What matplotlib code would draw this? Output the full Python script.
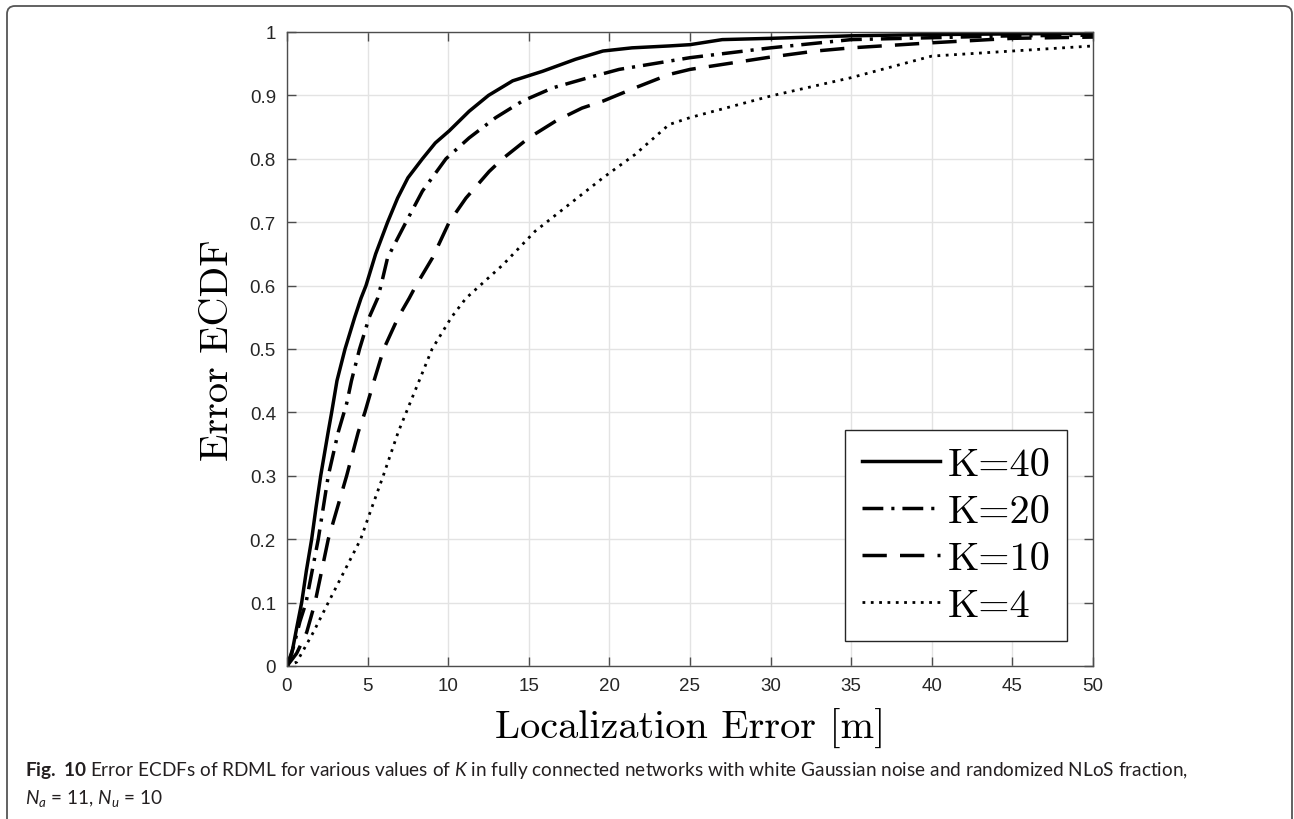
import matplotlib
matplotlib.use("Agg")
import matplotlib.pyplot as plt
from matplotlib.patches import FancyBboxPatch

# data (ECDF of localization error)
x_k40 = [0, 0.3, 0.6, 0.91, 1.2, 1.53, 1.8, 2.09, 2.56, 2.77, 3.1, 3.6, 4.2, 4.59, 4.9, 5.5, 6.24, 6.86,
         7.5, 8.4, 9.2, 10.06, 11.3, 12.5, 14.0, 15.85, 17.9, 19.6, 21.4, 23.7, 25, 27, 30, 35, 40, 45, 50]
y_k40 = [0, 0.02, 0.06, 0.1, 0.15, 0.2, 0.25, 0.3, 0.37, 0.4, 0.45, 0.5, 0.55, 0.58, 0.6, 0.65, 0.7, 0.738,
         0.77, 0.8, 0.825, 0.844, 0.875, 0.9, 0.923, 0.938, 0.957, 0.97, 0.975, 0.978, 0.98, 0.988, 0.99,
         0.994, 0.996, 0.997, 0.998]

x_k20 = [0, 0.4, 0.8, 1.18, 1.94, 2.56, 3.18, 3.7, 4.0, 4.5, 5.1, 5.62, 5.83, 6.24, 7.38, 8.4, 9.86, 11.3,
         12.95, 14.6, 16.5, 18.7, 20.6, 22.5, 25, 30, 35, 40, 45, 50]
y_k20 = [0, 0.03, 0.07, 0.1, 0.2, 0.3, 0.369, 0.414, 0.45, 0.5, 0.55, 0.58, 0.6, 0.644, 0.7, 0.749, 0.8, 0.833,
         0.865, 0.891, 0.912, 0.928, 0.941, 0.949, 0.9595, 0.975, 0.988, 0.991, 0.994, 0.995]

x_k10 = [0, 0.6, 1.22, 1.74, 2.56, 3.7, 4.42, 4.83, 5.4, 6.0, 6.9, 7.58, 8.0, 9.03, 10.06, 11.1, 12.54, 13.37,
         15.0, 16.7, 18.3, 19.6, 21.6, 23.7, 25, 30, 32.8, 35, 40, 45, 50]
y_k10 = [0, 0.02, 0.053, 0.1, 0.2, 0.3, 0.369, 0.4, 0.45, 0.5, 0.55, 0.58, 0.6, 0.644, 0.7, 0.738, 0.78, 0.8,
         0.833, 0.86, 0.88, 0.891, 0.912, 0.933, 0.941, 0.9605, 0.97, 0.975, 0.983, 0.99, 0.992]

x_k4 = [0, 0.6, 1.63, 2.56, 4.57, 5.08, 5.97, 6.9, 7.62, 8.2, 9.0, 10.2, 11.1, 13.4, 15.4, 17.5, 19.6, 21.6,
        23.7, 25, 30, 35, 40, 45, 50]
y_k4 = [0, 0.006, 0.053, 0.1, 0.2, 0.237, 0.3, 0.369, 0.414, 0.45, 0.5, 0.55, 0.58, 0.633, 0.686, 0.728, 0.77,
        0.807, 0.854, 0.865, 0.899, 0.928, 0.962, 0.97, 0.978]

labels = ["K=40", "K=20", "K=10", "K=4"]
xticks = [0, 5, 10, 15, 20, 25, 30, 35, 40, 45, 50]
yticks = [0, 0.1, 0.2, 0.3, 0.4, 0.5, 0.6, 0.7, 0.8, 0.9, 1]
yticklabels = ["0", "0.1", "0.2", "0.3", "0.4", "0.5", "0.6", "0.7", "0.8", "0.9", "1"]

# fonts
cap_font = "Lato"
tick_font = "Liberation Sans"
plt.rcParams["mathtext.fontset"] = "custom"
plt.rcParams["mathtext.rm"] = cap_font
plt.rcParams["mathtext.it"] = cap_font + ":italic"
plt.rcParams["mathtext.bf"] = cap_font + ":bold"
plt.rcParams["axes.unicode_minus"] = False

fig = plt.figure(figsize=(12.94, 8.2), dpi=100)
ax = fig.add_axes([287 / 1294, 1 - 667 / 820, 806 / 1294, 634 / 820])

lw = 2.5
ax.plot(x_k40, y_k40, color="black", lw=lw, linestyle="-", label=labels[0])
ax.plot(x_k20, y_k20, color="black", lw=lw, linestyle=(0, (6, 2.3, 0.9, 2.3)), label=labels[1])
ax.plot(x_k10, y_k10, color="black", lw=lw, linestyle=(0, (7, 3.8)), label=labels[2])
ax.plot(x_k4, y_k4, color="black", lw=lw * 0.8, linestyle=(0, (1, 2)), label=labels[3])

ax.set_xlim(0, 50)
ax.set_ylim(0, 1)
ax.set_xticks(xticks)
ax.set_xticklabels([str(t) for t in xticks])
ax.set_yticks(yticks)
ax.set_yticklabels(yticklabels)
ax.grid(True, color="#e3e3e3", lw=1)
ax.set_axisbelow(True)
ax.tick_params(direction="in", length=6.5, width=1, color="#4d4d4d", top=True, right=True,
               labelsize=13.5, labelcolor="#262626", pad=8)
for lab in ax.get_xticklabels() + ax.get_yticklabels():
    lab.set_fontfamily(tick_font)
for sp in ax.spines.values():
    sp.set_color("#4d4d4d")
    sp.set_linewidth(1)

ax.set_xlabel("Localization Error [m]", fontfamily="cmr10", fontsize=29)
ax.set_ylabel("Error ECDF", fontfamily="cmr10", fontsize=29)
ax.xaxis.set_label_coords(0.5, -0.066)
ax.yaxis.set_label_coords(-0.063, 0.5)

leg = ax.legend(loc="lower right", bbox_to_anchor=(0.968, 0.039), prop={"family": "cmr10", "size": 29},
                fancybox=False, framealpha=1, edgecolor="#262626", handlelength=1.95,
                handletextpad=0.18, labelspacing=0.27, borderpad=0.42, borderaxespad=0)
leg.get_frame().set_linewidth(1)

# caption
fig.text(25 / 1294, 1 - 776 / 820,
         r"$\mathbf{Fig.\ 10}$ Error ECDFs of RDML for various values of $K$ in fully connected networks "
         r"with white Gaussian noise and randomized NLoS fraction,",
         fontfamily=cap_font, fontsize=13.7, color="#231f20", va="baseline", ha="left")
fig.text(25 / 1294, 1 - 804 / 820, r"$N_a$ = 11, $N_u$ = 10",
         fontfamily=cap_font, fontsize=13.7, color="#231f20", va="baseline", ha="left")

# page frame
frame = FancyBboxPatch((7 / 100, -0.5), 1285 / 100, 8.13 + 0.5, boxstyle="round,pad=0,rounding_size=0.08",
                       transform=fig.dpi_scale_trans, facecolor="none", edgecolor="#555555", lw=1.3)
fig.patches.append(frame)

fig.savefig("out.png", dpi=100)
